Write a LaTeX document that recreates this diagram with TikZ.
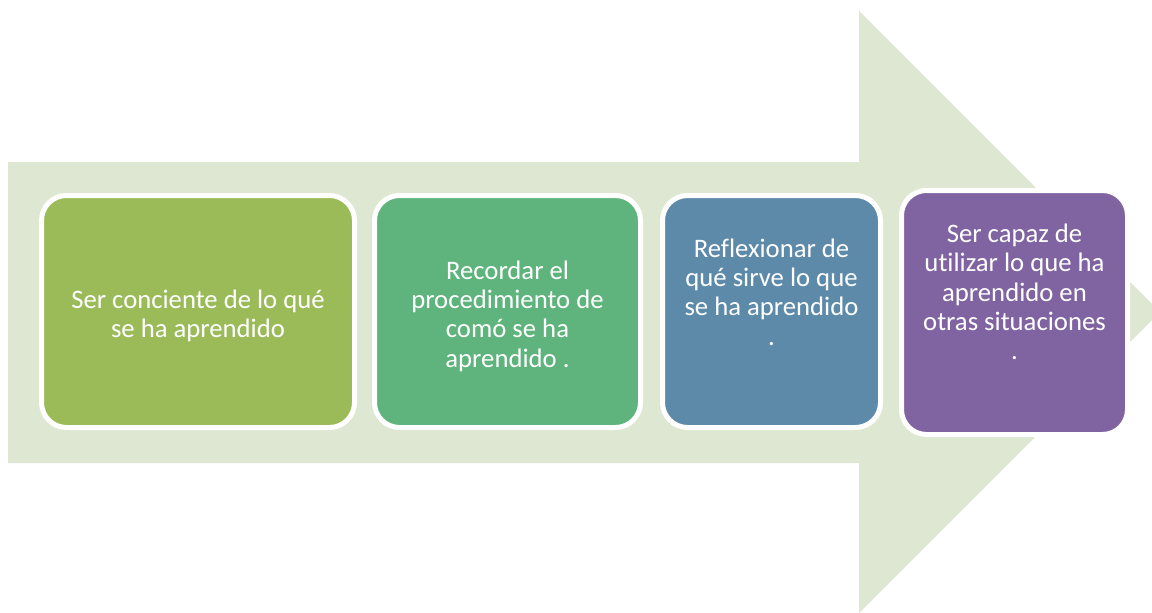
\documentclass[tikz,border=0pt]{standalone}
\usepackage{fontspec}
\setmainfont{Carlito}[Ligatures=NoCommon]
\usepackage{tikz}
\definecolor{arrowbg}{RGB}{222, 231, 210}
\definecolor{olive}{RGB}{155, 187, 89}
\definecolor{jade}{RGB}{94, 180, 124}
\definecolor{steel}{RGB}{94, 138, 170}
\definecolor{violet}{RGB}{128, 100, 162}
\usetikzlibrary{positioning, calc}

\begin{document}
\begin{tikzpicture}[x=1pt, y=-1pt,
    stepbox/.style={draw=white, line width=5pt, rounded corners=25pt,
                inner sep=0pt, minimum height=232pt},
    steptext/.style={text=white, align=center, inner sep=0pt,
                font=\fontsize{26.7}{29.3}\selectfont}
]
    \clip (0,0) rectangle (1152,613);

    % Big background arrow
    \fill[arrowbg] (8,162) -- (859,162) -- (859,11) -- (1160,312)
        -- (859,613) -- (859,463) -- (8,463) -- cycle;

    % 4 step boxes
    \node[stepbox, fill=olive, minimum width=313pt] (b1) at (198,311.5) {};
    \node[stepbox, fill=jade, minimum width=266pt] (b2) at (507.5,311.5) {};
    \node[stepbox, fill=steel, minimum width=218pt] (b3) at (771.5,311.5) {};
    \node[stepbox, fill=violet, minimum width=226pt, minimum height=244pt] (b4) at (1014.5,312.5) {};

    % Texts
    \node[steptext] (t1) at ([yshift=-4.5pt]b1.center) {Ser conciente de lo qué\\se ha aprendido};
    \node[steptext] (t2) at ([yshift=-4.5pt]b2.center) {Recordar el\\procedimiento de\\comó se ha\\aprendido .};
    \node[steptext] (t3) at ([yshift=19.5pt]b3.center) {Reflexionar de\\qué sirve lo que\\se ha aprendido\\.};
    \node[steptext] (t4) at ([yshift=20.5pt]b4.center) {Ser capaz de\\utilizar lo que ha\\aprendido en\\otras situaciones\\.};
\end{tikzpicture}
\end{document}
